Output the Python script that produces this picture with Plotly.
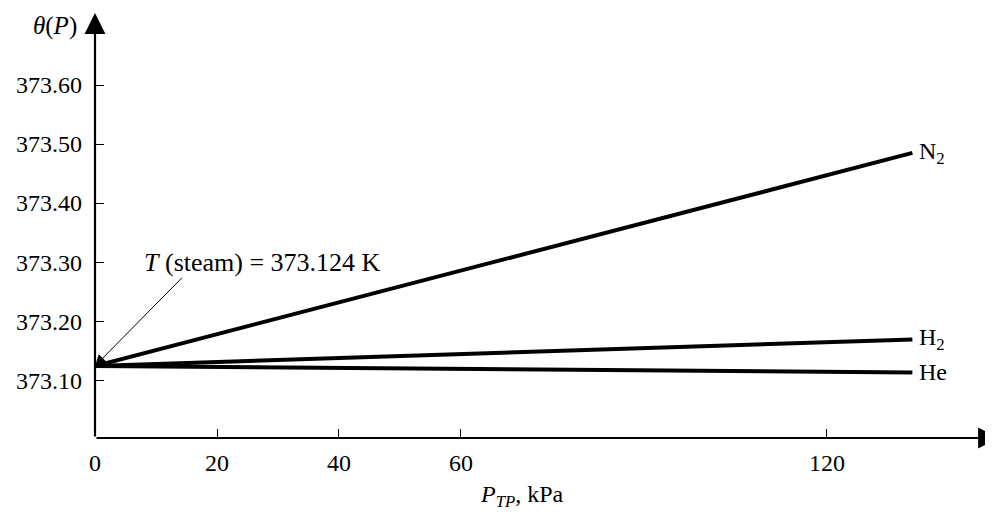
import plotly.graph_objects as go

# Data
pressure_kpa = [0, 134]
theta_n2 = [373.124, 373.485]
theta_h2 = [373.124, 373.169]
theta_he = [373.124, 373.113]
series_names = ["N<sub>2</sub>", "H<sub>2</sub>", "He"]
x_ticks = [0, 20, 40, 60, 120]
y_ticks = [373.10, 373.20, 373.30, 373.40, 373.50, 373.60]
steam_T = 373.124

X_MAX = 148.2
Y_MIN, Y_MAX = 373.002, 373.722
FONT = "Liberation Serif, Times New Roman, serif"

fig = go.Figure()
for name, ys in zip(series_names, [theta_n2, theta_h2, theta_he]):
    fig.add_trace(go.Scatter(x=pressure_kpa, y=ys, mode="lines",
                             line=dict(color="black", width=4), name=name,
                             showlegend=False, hoverinfo="skip"))
    fig.add_annotation(x=pressure_kpa[-1], y=ys[-1], text=name, showarrow=False,
                       xanchor="left", yanchor="middle", xshift=5,
                       font=dict(family=FONT, size=24, color="black"))

# axes arrows
fig.add_annotation(x=X_MAX, y=Y_MIN, ax=0, ay=Y_MIN, xref="x", yref="y",
                   axref="x", ayref="y", showarrow=True, text="",
                   arrowhead=2, arrowsize=1.9, arrowwidth=2.2, arrowcolor="black")
fig.add_annotation(x=0, y=Y_MAX, ax=0, ay=Y_MIN, xref="x", yref="y",
                   axref="x", ayref="y", showarrow=True, text="",
                   arrowhead=2, arrowsize=1.9, arrowwidth=2.2, arrowcolor="black")

# steam annotation
fig.add_annotation(x=0, y=steam_T, ax=14.5, ay=373.276, xref="x", yref="y",
                   axref="x", ayref="y", showarrow=True, text="",
                   arrowhead=2, arrowsize=2.2, arrowwidth=1, arrowcolor="black")
fig.add_annotation(x=27.4, y=373.30, xref="x", yref="y", showarrow=False,
                   text="<i>T</i> (steam) = 373.124 K",
                   font=dict(family=FONT, size=26, color="black"))

# axis titles
fig.add_annotation(x=0, y=Y_MAX, xref="x", yref="y", showarrow=False,
                   text="<i>θ</i>(<i>P</i>)", xanchor="right", yanchor="middle",
                   xshift=-16, yshift=-13,
                   font=dict(family=FONT, size=25, color="black"))
fig.add_annotation(x=70, y=0, xref="x", yref="paper", showarrow=False,
                   text="<i>P</i><sub><i>TP</i></sub>, kPa", yanchor="middle",
                   yshift=-58,
                   font=dict(family=FONT, size=24, color="black"))

fig.update_xaxes(range=[0, X_MAX], tickvals=x_ticks, ticktext=[str(v) for v in x_ticks],
                 ticks="inside", ticklen=9, tickwidth=1, tickcolor="black",
                 showline=False, showgrid=False, zeroline=False, automargin=False,
                 ticklabelstandoff=8,
                 tickfont=dict(family=FONT, size=24, color="black"))
fig.update_yaxes(range=[Y_MIN, Y_MAX], tickvals=y_ticks,
                 ticktext=[f"{v:.2f}" for v in y_ticks],
                 ticks="inside", ticklen=9, tickwidth=1, tickcolor="black",
                 showline=False, showgrid=False, zeroline=False, automargin=False,
                 ticklabelstandoff=12,
                 tickfont=dict(family=FONT, size=24, color="black"))

# page body adds an 8px offset; the plot runs to the window's right edge
fig.update_layout(width=993, height=504, margin=dict(l=87, r=2, t=5, b=74),
                  plot_bgcolor="white", paper_bgcolor="white")

fig.write_html("out.html")
